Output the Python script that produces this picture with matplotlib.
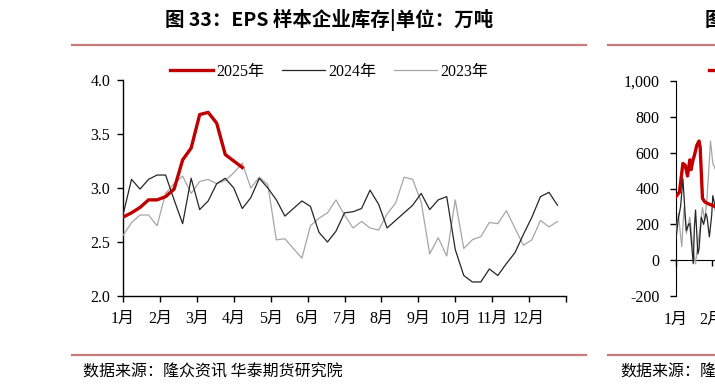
import numpy as np
import matplotlib
matplotlib.use("Agg")
import matplotlib.pyplot as plt
from matplotlib.lines import Line2D
from matplotlib.ticker import StrMethodFormatter, NullFormatter

plt.rcParams['font.family'] = ['Liberation Serif', 'Noto Sans CJK SC']
plt.rcParams['axes.unicode_minus'] = False

# ---------------- data: left chart (weekly, 52 weeks) ----------------
months = ['1月', '2月', '3月', '4月', '5月', '6月', '7月', '8月', '9月', '10月', '11月', '12月']
left_yticks = [2.0, 2.5, 3.0, 3.5, 4.0]

inv_2025 = [2.73, 2.77, 2.82, 2.89, 2.89, 2.92, 2.99, 3.26, 3.37, 3.68, 3.70, 3.60, 3.31, 3.25, 3.19]

inv_2024 = [2.75, 3.08, 2.99, 3.08, 3.12, 3.12, 2.89, 2.67, 3.09, 2.80,
            2.88, 3.04, 3.09, 3.00, 2.81, 2.91, 3.09, 3.00, 2.89, 2.74,
            2.81, 2.88, 2.83, 2.59, 2.50, 2.60, 2.77, 2.78, 2.81, 2.98,
            2.85, 2.63, 2.70, 2.77, 2.84, 2.95, 2.80, 2.89, 2.92, 2.43,
            2.19, 2.13, 2.13, 2.25, 2.19, 2.30, 2.40, 2.57, 2.73, 2.92,
            2.96, 2.84]

inv_2023 = [2.56, 2.68, 2.75, 2.75, 2.65, 2.95, 3.04, 3.11, 2.95, 3.06,
            3.08, 3.04, 3.07, 3.14, 3.23, 3.00, 3.10, 3.03, 2.52, 2.53,
            2.44, 2.35, 2.65, 2.72, 2.77, 2.89, 2.75, 2.63, 2.69, 2.63,
            2.61, 2.76, 2.86, 3.10, 3.08, 2.87, 2.39, 2.54, 2.37, 2.89,
            2.44, 2.52, 2.55, 2.68, 2.67, 2.79, 2.63, 2.47, 2.52, 2.70,
            2.64, 2.69]

# ---------------- data: right chart (partially visible, daily) ----------------
right_yticks = [-200, 0, 200, 400, 600, 800, 1000]
month_start_days = [0, 31, 59, 90, 120, 151, 181, 212, 243, 273, 304, 334]

r2025_days = [0, 3, 6, 8, 10, 12, 13, 15, 16, 18, 20, 21, 23, 25, 28, 30, 32, 35, 38]
r2025_vals = [355, 380, 540, 530, 470, 560, 505, 565, 585, 640, 665, 630, 345, 325, 315, 310, 305, 295, 290]

r2024_days = [0, 2, 4, 6, 8, 9, 11, 12, 14, 15, 16, 17, 19, 20, 22, 24, 26, 27, 29, 31, 32, 34, 36, 38]
r2024_vals = [120, 230, 300, 455, 250, 165, 200, 205, 55, -20, 185, 280, 35, 60, 240, 200, 260, 240, 130, 250, 360, 300, 150, 250]

r2023_days = [0, 2, 5, 7, 9, 12, 15, 17, 19, 21, 23, 25, 27, 30, 32, 34, 36, 38]
r2023_vals = [145, 260, 75, 295, 150, 240, 55, -20, 90, 185, 295, 220, 350, 665, 540, 510, 470, 520]

W, H = 715, 391
fig = plt.figure(figsize=(W / 100, H / 100), dpi=100)

def fx(px):
    return px / W

def fy(py):
    return 1 - py / H

RED = '#C00000'
DARK = '#262626'
GRAY = '#A6A6A6'
RULE = '#C97B7B'

# ---------------- left chart ----------------
ax = fig.add_axes([fx(123), fy(296), (566 - 123) / W, (296 - 80) / H])
x24 = np.arange(len(inv_2024))
x23 = np.arange(len(inv_2023))
x25 = np.arange(len(inv_2025))
ax.plot(x25, inv_2025, color=RED, lw=2.4, label='2025年', zorder=5, solid_joinstyle='round')
ax.plot(x24, inv_2024, color=DARK, lw=0.9, label='2024年', zorder=4)
ax.plot(x23, inv_2023, color=GRAY, lw=0.9, label='2023年', zorder=3)
ax.set_xlim(0, 52)
ax.set_ylim(2.0, 4.0)
ax.set_yticks(left_yticks)
ax.yaxis.set_major_formatter(StrMethodFormatter('{x:.1f}'))
tick_pos = [k * 52 / 12 for k in range(13)]
ax.set_xticks(tick_pos)
ax.set_xticklabels(months + [''])
for s in ['top', 'right']:
    ax.spines[s].set_visible(False)
for s in ['left', 'bottom']:
    ax.spines[s].set_linewidth(1.0)
    ax.spines[s].set_color('black')
ax.tick_params(axis='y', direction='out', length=4, width=1, labelsize=11.5, pad=5)
ax.tick_params(axis='x', direction='out', length=4, width=1, labelsize=11.5, pad=7)

fig.legend(handles=ax.get_lines(), labels=['2025年', '2024年', '2023年'],
           loc='center', bbox_to_anchor=(fx(329), fy(72)), ncol=3, frameon=False,
           fontsize=11.5, handlelength=2.7, handletextpad=0.2, columnspacing=1.1,
           borderpad=0, borderaxespad=0)

# ---------------- right chart (cut off at the figure edge) ----------------
ax2 = fig.add_axes([fx(676), fy(296), 420 / W, (296 - 81) / H])
ax2.plot(r2023_days, r2023_vals, color=GRAY, lw=0.9, zorder=3)
ax2.plot(r2024_days, r2024_vals, color=DARK, lw=0.9, zorder=4)
l25 = ax2.plot(r2025_days, r2025_vals, color=RED, lw=2.4, zorder=5, solid_joinstyle='round')[0]
ax2.set_xlim(0, 365)
ax2.set_ylim(-200, 1000)
ax2.set_yticks(right_yticks)
ax2.yaxis.set_major_formatter(StrMethodFormatter('{x:,.0f}'))
ax2.set_xticks(month_start_days)
ax2.xaxis.set_major_formatter(NullFormatter())
for s in ['top', 'right']:
    ax2.spines[s].set_visible(False)
ax2.spines['bottom'].set_position(('data', 0))
ax2.tick_params(axis='y', direction='out', length=4, width=1, labelsize=11.5, pad=8)
ax2.tick_params(axis='x', direction='out', length=4, width=1)
for d, lab in zip(month_start_days[:2], months[:2]):
    ax2.text(d, -0.11, lab, transform=ax2.get_xaxis_transform(), ha='center', va='center', fontsize=11.5)
# legend of the cut-off chart: only its first handle is visible in the frame
leg2 = fig.legend(handles=[l25], labels=[''], loc='center left', bbox_to_anchor=(fx(709), fy(72)),
                  frameon=False, fontsize=11.5, handlelength=2.6, borderpad=0, borderaxespad=0)

# ---------------- titles, rules, sources ----------------
cjk = ['Noto Sans CJK SC', 'DejaVu Sans']
fig.text(fx(329), fy(20), '图 33：EPS 样本企业库存|单位：万吨', ha='center', va='center',
         fontsize=14, fontweight='bold', family=cjk)
fig.text(fx(705), fy(20), '图', ha='left', va='center', fontsize=14, fontweight='bold', family=cjk)

for x0, x1 in [(72, 586), (608, 715)]:
    fig.add_artist(Line2D([fx(x0), fx(x1)], [fy(45), fy(45)], transform=fig.transFigure, color=RULE, lw=1.6))
    fig.add_artist(Line2D([fx(x0), fx(x1)], [fy(355), fy(355)], transform=fig.transFigure, color=RULE, lw=1.6))

fig.text(fx(83), fy(372), '数据来源：隆众资讯 华泰期货研究院', ha='left', va='center', fontsize=11.5, family=cjk)
fig.text(fx(620), fy(372), '数据来源：隆', ha='left', va='center', fontsize=11.5, family=cjk)

fig.savefig('out.png', dpi=100, facecolor='white')
